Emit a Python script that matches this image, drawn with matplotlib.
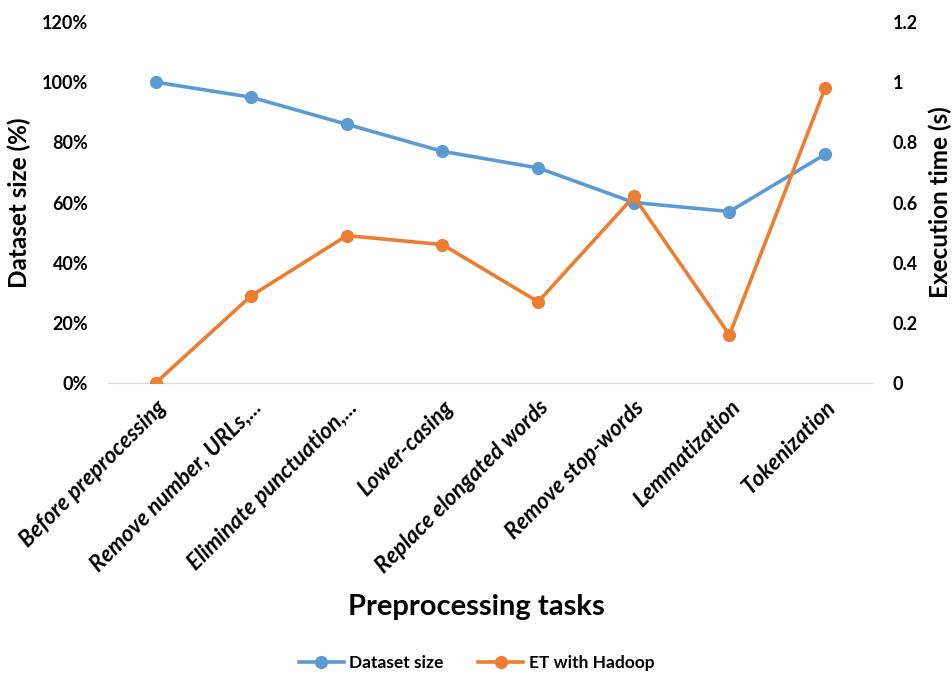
import matplotlib
matplotlib.use("Agg")
import matplotlib.pyplot as plt
from matplotlib.ticker import FuncFormatter

# categories and values
tasks = ['Before preprocessing', 'Remove number, URLs,...', 'Eliminate punctuation,...',
         'Lower-casing', 'Replace elongated words', 'Remove stop-words',
         'Lemmatization', 'Tokenization']
dataset_size = [100, 95, 86, 77, 71.5, 60, 57, 76]
et_hadoop = [0, 0.29, 0.49, 0.46, 0.27, 0.62, 0.16, 0.98]

plt.rcParams['font.family'] = ['Lato', 'DejaVu Sans']
blue = '#5B9BD5'
orange = '#ED7D31'

fig = plt.figure(figsize=(9.53, 6.75), dpi=100)
ax1 = fig.add_axes([0.113, 0.4326, 0.803, 0.5348])
ax2 = ax1.twinx()

x = list(range(len(tasks)))
l1, = ax1.plot(x, dataset_size, color=blue, lw=2.6, marker='o', ms=8.5, label='Dataset size')
l2, = ax2.plot(x, et_hadoop, color=orange, lw=2.6, marker='o', ms=8.5, label='ET with Hadoop')

ax1.set_xlim(-0.5, len(tasks) - 0.5)
ax1.set_ylim(0, 120)
ax2.set_ylim(0, 1.2)
ax1.set_yticks(range(0, 121, 20))
ax2.set_yticks([0, 0.2, 0.4, 0.6, 0.8, 1.0, 1.2])
ax1.yaxis.set_major_formatter(FuncFormatter(lambda v, p: f'{int(v)}%'))
ax2.yaxis.set_major_formatter(FuncFormatter(lambda v, p: f'{v:g}'))

for a in (ax1, ax2):
    for s in a.spines.values():
        s.set_visible(False)
    a.tick_params(length=0, labelsize=13)
    for t in a.get_yticklabels():
        t.set_fontweight('bold')
ax1.spines['bottom'].set_visible(True)
ax1.spines['bottom'].set_color('#d9d9d9')
ax1.tick_params(axis='y', pad=14)
ax2.tick_params(axis='y', pad=14)

ax1.set_xticks(x)
ax1.set_xticklabels(tasks, rotation=45, ha='right', rotation_mode='anchor',
                    fontsize=16, fontweight='bold', fontstyle='italic')
ax1.tick_params(axis='x', pad=10)

ax1.set_ylabel('Dataset size (%)', fontsize=17.5, fontweight='bold', labelpad=8)
ax2.set_ylabel('Execution time (s)', fontsize=17.5, fontweight='bold', labelpad=8)
fig.text(0.5, 0.1007, 'Preprocessing tasks', ha='center', va='center',
         fontsize=21, fontweight='bold')

fig.legend(handles=[l1, l2], loc='center', bbox_to_anchor=(0.5, 0.018), ncol=2,
           frameon=False, prop={'weight': 'bold', 'size': 12.5},
           handlelength=2.6, columnspacing=2, handletextpad=0.3)

fig.savefig('out.png', dpi=100)
